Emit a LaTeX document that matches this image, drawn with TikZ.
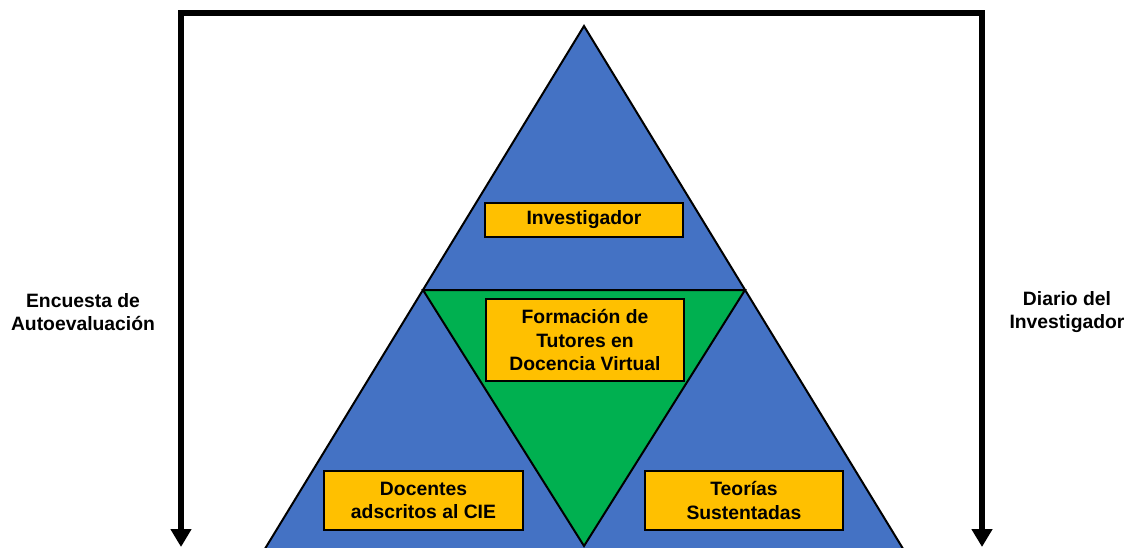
\documentclass[tikz,border=0pt]{standalone}
\usepackage{fontspec}
\setmainfont{Liberation Sans}
\usepackage{tikz}
\usetikzlibrary{arrows.meta,positioning,calc}
\definecolor{triblue}{HTML}{4472C4}
\definecolor{trigreen}{HTML}{00B050}
\definecolor{boxgold}{HTML}{FFC000}
\tikzset{
  labeltext/.style={font=\bfseries\fontsize{14.5}{17.5}\selectfont,align=center},
  goldbox/.style={draw,line width=1.5pt,fill=boxgold,minimum width=149pt,inner sep=0pt,labeltext},
  bracket/.style={line width=4.5pt,line join=miter,{Triangle[width=15pt,length=13.5pt]}-{Triangle[width=15pt,length=13.5pt]}}
}

\begin{document}
\begin{tikzpicture}[x=0.75pt,y=-0.75pt]
  \clip (0,0) rectangle (1130,547);
  % Corners of the big triangle and of the inner one
  \coordinate (T) at (584,26);
  \coordinate (BL) at (263,552);
  \coordinate (BR) at (905,552);
  \coordinate (ML) at (423,290);
  \coordinate (MR) at (745,290);
  \coordinate (MB) at (584,546);
  % Fill the triangles
  \filldraw[fill=triblue,line width=1.5pt] (T) -- (BL) -- (BR) -- cycle;
  \filldraw[fill=trigreen,line width=1.5pt] (ML) -- (MR) -- (MB) -- cycle;
  % The four boxes
  \path (584,220) node[goldbox,minimum height=25.5pt] (inv) {Investigador};
  \path (585,340) node[goldbox,minimum height=62pt] (form) {Formación de\\Tutores en\\Docencia Virtual};
  \path (423.5,500.5) node[goldbox,minimum height=44pt] (doc) {Docentes\\adscritos al CIE};
  \path (744,500.5) node[goldbox,minimum height=44pt] (teo) {Teorías\\Sustentadas};
  % The instruments on both sides
  \path (83,312) node[labeltext] (enc) {Encuesta de\\Autoevaluación};
  \path (1067,312) node[labeltext] (dia) {Diario del\\Investigador};
  \coordinate (lend) at (181,547);
  \coordinate (ltop) at (181,13);
  \coordinate (rtop) at (982,13);
  \coordinate (rend) at (982,547);
  \draw[bracket] (lend) -- (ltop) -- (rtop) -- (rend);
\end{tikzpicture}
\end{document}
